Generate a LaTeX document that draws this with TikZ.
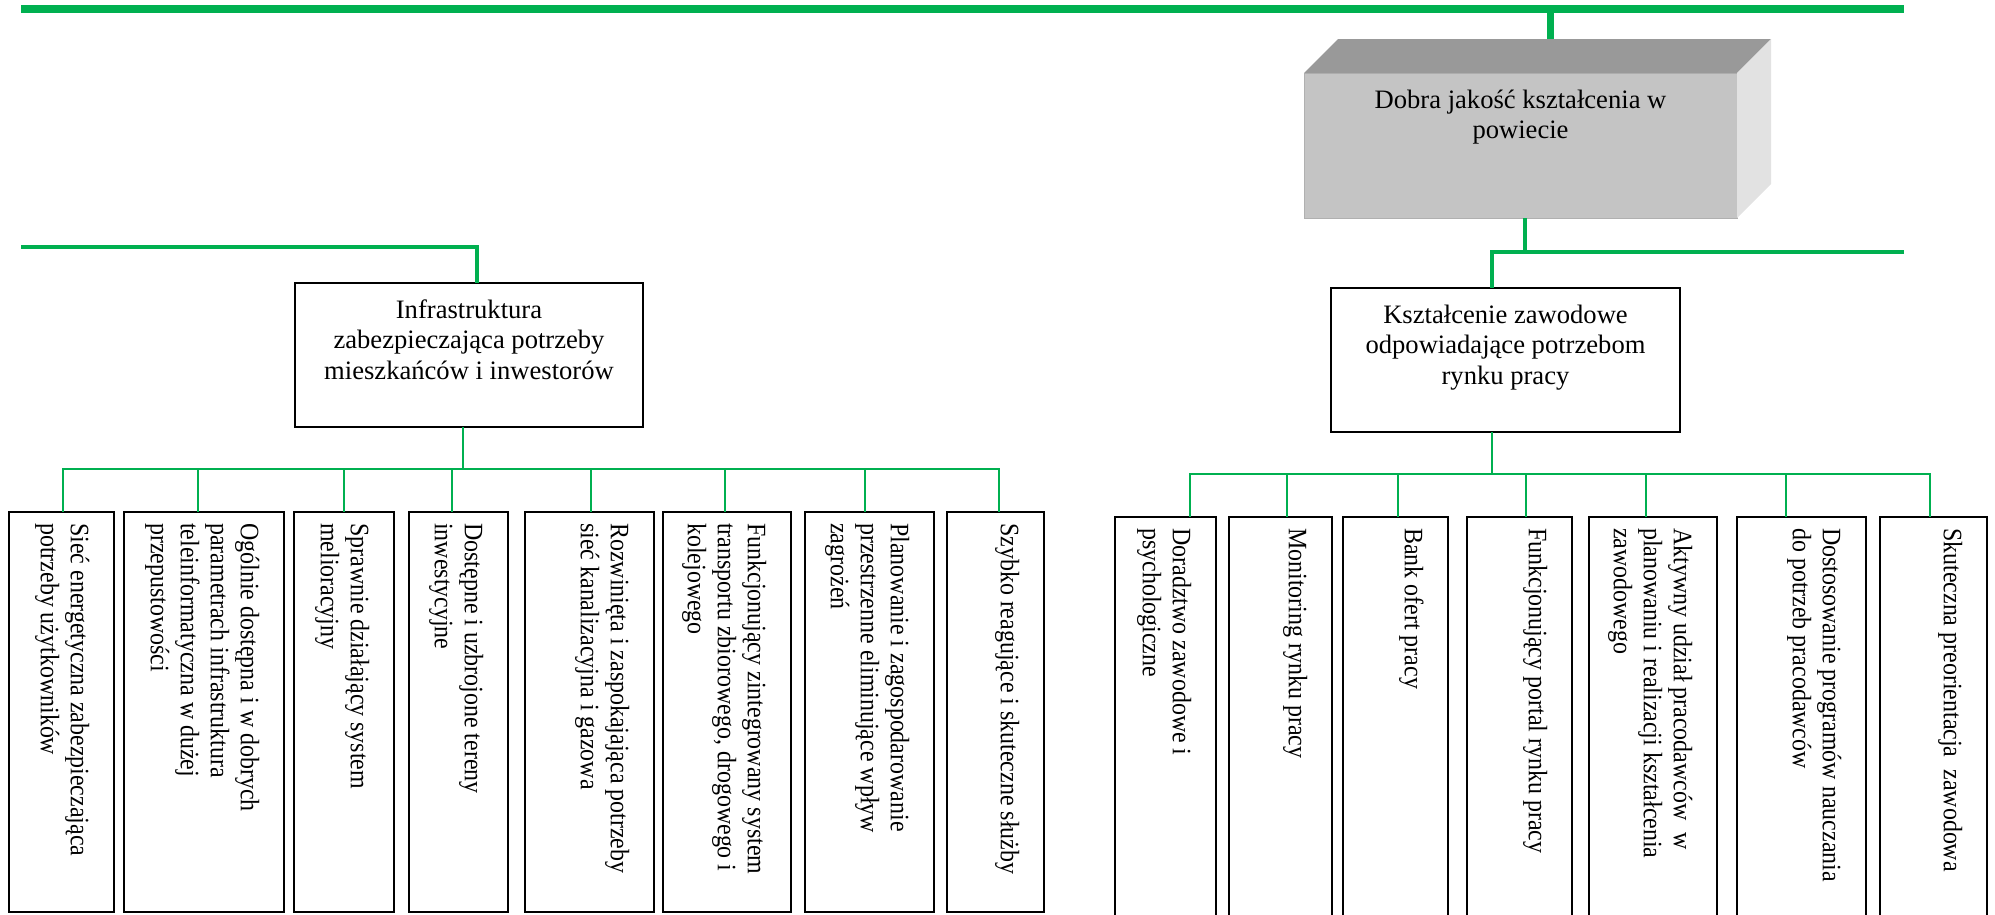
\documentclass[tikz,border=0pt]{standalone}
\usepackage{fontspec}
\setmainfont{Liberation Serif}
\newfontfamily\rotfont[FakeStretch=0.9]{Liberation Serif}
\usetikzlibrary{calc}
\definecolor{ogreen}{RGB}{0,176,80}
\definecolor{cubetop}{RGB}{153,153,153}
\definecolor{cubefront}{RGB}{196,196,196}
\definecolor{cubeside}{RGB}{226,226,226}
\definecolor{cubeedge}{RGB}{176,176,176}
\begin{document}
\begin{tikzpicture}[x=1pt,y=-1pt,
  toplink/.style={ogreen,line width=8pt},
  stublink/.style={ogreen,line width=7pt},
  midlink/.style={ogreen,line width=4.5pt,line join=miter},
  thinlink/.style={ogreen,line width=2pt},
  framebox/.style={draw=black,line width=2.2pt,rectangle,inner sep=0pt,outer sep=0pt,fill=white},
  headtext/.style={anchor=north,align=center,inner sep=0pt,font=\fontsize{26.6}{30.6}\selectfont},
  rottext/.style={rotate=-90,anchor=north west,align=left,inner sep=0pt,font=\rotfont\fontsize{26.6}{30}\selectfont},
]
\useasboundingbox (0,0) rectangle (1995,914);
\clip (0,0) rectangle (1995,914);

% top bus
\coordinate (topL) at (21,9);
\coordinate (topR) at (1904,9);
\draw[toplink] (topL) -- (topR);

% 3D box
\node[fill=cubefront,draw=cubeedge,line width=1pt,minimum width=433pt,minimum height=145pt,inner sep=0pt,outer sep=0pt] (dobra) at (1520.5,145.5) {};
\coordinate (cubeback) at ($(dobra.north west)+(34,-34)$);
\fill[cubetop] (dobra.north west) -- (cubeback) -- ($(dobra.north east)+(34,-34)$) -- (dobra.north east) -- cycle;
\fill[cubeside] (dobra.north east) -- ++(34,-34) -- ++(0,145) -- (dobra.south east) -- cycle;
\node[headtext] (dobratxt) at ($(dobra.north)+(0,15)$) {\rule{0pt}{20pt}Dobra jakość kształcenia w\\powiecie};
\coordinate (stubtop) at (1550,9);
\draw[stublink] (stubtop) -- (stubtop |- cubeback);

% right branch
\coordinate (rj) at (1525,252);
\coordinate (rk) at (1492,252);
\coordinate (rbusR) at (1904,252);
\draw[midlink] (rj |- dobra.south) -- (rj);
\node[framebox,minimum width=349pt,minimum height=144pt] (kszt) at (1505.5,360) {};
\node[headtext] (kszttxt) at ($(kszt.north)+(0,15)$) {\rule{0pt}{20pt}Kształcenie zawodowe\\odpowiadające potrzebom\\rynku pracy};
\draw[midlink] (rbusR) -- (rk) -- (rk |- kszt.north);

% left branch
\coordinate (lbusL) at (21,247);
\coordinate (lk) at (477,247);
\node[framebox,minimum width=348pt,minimum height=144pt] (infra) at (469,355) {};
\node[headtext] (infratxt) at ($(infra.north)+(0,15)$) {\rule{0pt}{20pt}Infrastruktura\\zabezpieczająca potrzeby\\mieszkańców i inwestorów};
\draw[midlink] (lbusL) -- (lk) -- (lk |- infra.north);

% left bottom bus
\coordinate (lbus) at (463,469);
\coordinate (lbusA) at (62,469);
\coordinate (lbusB) at (1000,469);
\draw[thinlink] (lbus |- infra.south) -- (lbus);
\draw[thinlink] (lbusA) -- (lbusB);

\foreach \n/\cx/\w/\tx/\txt in {
  1/61.5/105/63/{Sieć energetyczna zabezpieczająca\\potrzeby użytkowników},
  2/204/160/198/{Ogólnie dostępna i w dobrych\\parametrach infrastruktura\\teleinformatyczna w dużej\\przepustowości},
  3/344/100/344/{Sprawnie działający system\\melioracyjny},
  4/458.5/99/452/{Dostępne i uzbrojone tereny\\inwestycyjne},
  5/589.5/129/591/{Rozwinięta i zaspokajająca potrzeby\\sieć kanalizacyjna i gazowa},
  6/727/128/725/{Funkcjonujący zintegrowany system\\transportu zbiorowego, drogowego i\\kolejowego},
  7/869.5/129/865/{Planowanie i zagospodarowanie\\przestrzenne eliminujące wpływ\\zagrożeń},
  8/995.5/97/999/{Szybko reagujące i skuteczne służby}}{
  \node[framebox,minimum width=\w pt,minimum height=400pt] (l\n) at (\cx,712) {};
  \coordinate (lt\n) at (\tx,469);
  \draw[thinlink] (lt\n) -- (lt\n |- l\n.north);
  \node[rottext] (lx\n) at ($(l\n.north east)+(-24,11)$) {\rule{0pt}{19pt}\txt};
}

% right bottom bus
\coordinate (rbus) at (1492,474);
\coordinate (rbusA) at (1189,474);
\coordinate (rbusB) at (1931,474);
\draw[thinlink] (rbus |- kszt.south) -- (rbus);
\draw[thinlink] (rbusA) -- (rbusB);

\foreach \n/\cx/\w/\tx/\txt in {
  1/1165.5/101/1190/{Doradztwo zawodowe i\\psychologiczne},
  2/1280.5/103/1287/{Monitoring rynku pracy},
  3/1395.5/105/1398/{Bank ofert pracy},
  4/1519.5/105/1526/{Funkcjonujący portal rynku pracy},
  5/1653/128/1646/{Aktywny udział pracodawców~ w\\planowaniu i realizacji kształcenia\\zawodowego},
  6/1801.5/129/1786/{Dostosowanie programów nauczania\\do potrzeb pracodawców},
  7/1933.5/107/1930/{Skuteczna preorientacja~ zawodowa}}{
  \node[framebox,minimum width=\w pt,minimum height=423pt] (r\n) at (\cx,728.5) {};
  \coordinate (rt\n) at (\tx,474);
  \draw[thinlink] (rt\n) -- (rt\n |- r\n.north);
  \node[rottext] (rx\n) at ($(r\n.north east)+(-24,11)$) {\rule{0pt}{19pt}\txt};
}
\end{tikzpicture}
\end{document}
